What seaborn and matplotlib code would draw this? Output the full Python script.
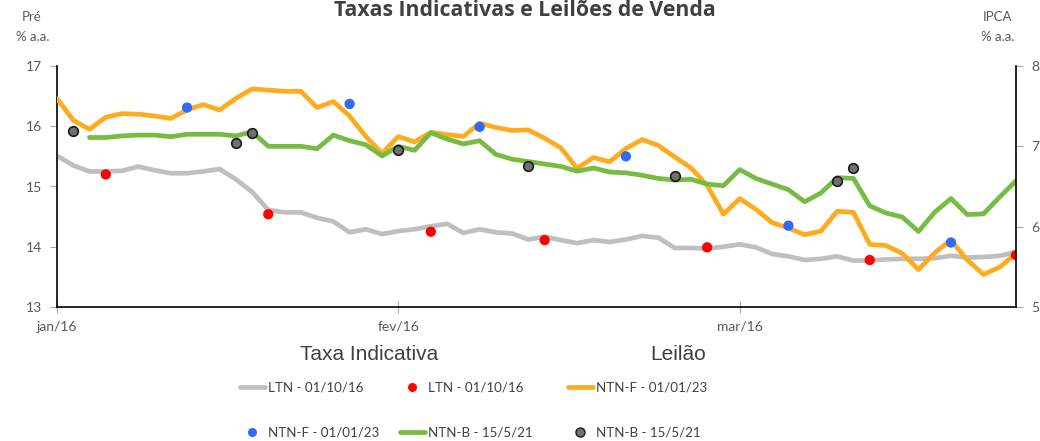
import matplotlib
matplotlib.use("Agg")
import matplotlib.pyplot as plt
from matplotlib.lines import Line2D
import numpy as np
import pandas as pd
import seaborn as sns

# ---------------- data ----------------
x_tick_pos = [0, 21, 42]
x_tick_labels = ["jan/16", "fev/16", "mar/16"]

ltn_rate = [15.51, 15.35, 15.25, 15.25, 15.26, 15.33, 15.27, 15.22, 15.22, 15.25,
            15.29, 15.12, 14.91, 14.61, 14.57, 14.57, 14.48, 14.42, 14.24, 14.29,
            14.21, 14.26, 14.29, 14.34, 14.38, 14.23, 14.29, 14.24, 14.22, 14.12,
            14.17, 14.11, 14.06, 14.11, 14.08, 14.12, 14.18, 14.15, 13.98, 13.98,
            13.97, 14.00, 14.04, 13.99, 13.88, 13.84, 13.78, 13.80, 13.84, 13.77,
            13.77, 13.79, 13.80, 13.80, 13.81, 13.85, 13.82, 13.83, 13.85, 13.91]

ntnf_rate = [16.46, 16.10, 15.95, 16.15, 16.21, 16.20, 16.17, 16.13, 16.27, 16.36,
             16.27, 16.46, 16.62, 16.60, 16.58, 16.58, 16.31, 16.41, 16.17, 15.83,
             15.55, 15.83, 15.74, 15.90, 15.86, 15.83, 16.05, 15.98, 15.93, 15.94,
             15.80, 15.64, 15.30, 15.48, 15.41, 15.63, 15.78, 15.68, 15.49, 15.31,
             15.02, 14.54, 14.80, 14.62, 14.40, 14.31, 14.20, 14.26, 14.59, 14.57,
             14.04, 14.02, 13.89, 13.62, 13.90, 14.11, 13.78, 13.54, 13.66, 13.89]

ntnb_rate = [np.nan, np.nan, 7.11, 7.11, 7.13, 7.14, 7.14, 7.12, 7.15, 7.15,
             7.15, 7.13, 7.18, 7.00, 7.00, 7.00, 6.97, 7.14, 7.07, 7.02,
             6.88, 7.00, 6.95, 7.17, 7.09, 7.03, 7.07, 6.90, 6.84, 6.81,
             6.78, 6.75, 6.69, 6.73, 6.68, 6.67, 6.64, 6.60, 6.58, 6.59,
             6.53, 6.51, 6.71, 6.60, 6.53, 6.46, 6.31, 6.42, 6.61, 6.60,
             6.26, 6.17, 6.12, 5.94, 6.18, 6.35, 6.15, 6.16, 6.37, 6.57]

ltn_auc_idx = [3, 13, 23, 30, 40, 50, 59]
ltn_auc = [15.20, 14.54, 14.25, 14.11, 13.99, 13.78, 13.86]

ntnf_auc_idx = [8, 18, 26, 35, 45, 55]
ntnf_auc = [16.31, 16.37, 15.99, 15.50, 14.35, 14.07]

ntnb_auc_idx = [1, 11, 12, 21, 29, 38, 48, 49]
ntnb_auc = [7.19, 7.04, 7.17, 6.95, 6.76, 6.63, 6.57, 6.73]

# ---------------- style ----------------
sns.set_theme(style="white")
plt.rcParams["font.family"] = ["Lato", "DejaVu Sans"]

C_GRAY = "#BFBFBF"
C_ORANGE = "#FFAB1F"
C_GREEN = "#77BC42"
C_RED = "#FF0000"
C_BLUE = "#2F6BF6"
C_DOT = "#707070"
TXT = "#595959"
DARK = "#404040"

idx = np.arange(len(ltn_rate))
df = pd.DataFrame({"i": idx, "ltn": ltn_rate, "ntnf": ntnf_rate, "ntnb": ntnb_rate})

fig = plt.figure(figsize=(10.4, 4.41), dpi=100)
ax = fig.add_axes([57 / 1040, 1 - 307 / 441, (1016 - 57) / 1040, (307 - 66) / 441])
ax2 = ax.twinx()

LW = 3.4
sns.lineplot(data=df, x="i", y="ltn", ax=ax, color=C_GRAY, lw=LW, zorder=2)
sns.lineplot(data=df, x="i", y="ntnf", ax=ax, color=C_ORANGE, lw=LW, zorder=3)
sns.scatterplot(x=ltn_auc_idx, y=ltn_auc, ax=ax, color=C_RED, s=55,
                edgecolor="none", zorder=5)
sns.scatterplot(x=ntnf_auc_idx, y=ntnf_auc, ax=ax, color=C_BLUE, s=55,
                edgecolor="none", zorder=5)

sns.lineplot(data=df, x="i", y="ntnb", ax=ax2, color=C_GREEN, lw=LW, zorder=2)
sns.scatterplot(x=ntnb_auc_idx, y=ntnb_auc, ax=ax2, color=C_DOT, s=48,
                edgecolor="#1a1a1a", linewidth=1.2, zorder=5)

for a in (ax, ax2):
    a.set_xlim(0, 59)
    a.set_xlabel("")
    a.set_ylabel("")
    a.grid(False)
    for s in a.spines.values():
        s.set_visible(False)

ax.set_ylim(13, 17)
ax.set_yticks([13, 14, 15, 16, 17])
ax2.set_ylim(5, 8)
ax2.set_yticks([5, 6, 7, 8])

ax.spines["left"].set_visible(True)
ax.spines["bottom"].set_visible(True)
ax2.spines["right"].set_visible(True)
for s in (ax.spines["left"], ax.spines["bottom"], ax2.spines["right"]):
    s.set_color("black")
    s.set_linewidth(1.2)

ax.set_xticks(x_tick_pos)
ax.set_xticklabels(x_tick_labels)
ax.tick_params(axis="x", direction="inout", length=8, width=0.8, color="#A6A6A6",
               labelsize=10, labelcolor=TXT, pad=6, bottom=True)
ax.tick_params(axis="y", direction="out", length=5, width=0.8, color="#A6A6A6",
               labelsize=10, labelcolor=TXT, pad=6, left=True)
ax2.tick_params(axis="y", direction="out", length=5, width=0.8, color="#A6A6A6",
                labelsize=10, labelcolor=TXT, pad=6, right=True)

# ---------------- texts ----------------
fig.text(525 / 1040, 1 - 10 / 441, "Taxas Indicativas e Leilões de Venda",
         ha="center", va="center", fontsize=15.3, fontweight="bold", color=DARK,
         family=["Open Sans", "DejaVu Sans"])
fig.text(32 / 1040, 1 - 17 / 441, "Pré", ha="center", va="center", fontsize=9.5, color=TXT)
fig.text(33 / 1040, 1 - 37 / 441, "% a.a.", ha="center", va="center", fontsize=9.5, color=TXT)
fig.text(997 / 1040, 1 - 17 / 441, "IPCA", ha="center", va="center", fontsize=9.5, color=TXT)
fig.text(998 / 1040, 1 - 37 / 441, "% a.a.", ha="center", va="center", fontsize=9.5, color=TXT)

fig.text(369 / 1040, 1 - 355 / 441, "Taxa Indicativa", ha="center", va="center",
         fontsize=15, color=DARK, family=["Liberation Sans", "DejaVu Sans"])
fig.text(678 / 1040, 1 - 354 / 441, "Leilão", ha="center", va="center",
         fontsize=15, color=DARK, family=["Liberation Sans", "DejaVu Sans"])

# ---------------- legends ----------------
def line_h(c):
    return Line2D([], [], color=c, lw=3.4)

def dot_h(c, ec="none"):
    return Line2D([], [], color=c, lw=0, marker="o", markersize=6.5,
                  markeredgecolor=ec, markeredgewidth=1.0)

cols = [
    (240, [line_h(C_GRAY), dot_h(C_BLUE)], ["LTN - 01/10/16", "NTN-F - 01/01/23"]),
    (400, [dot_h(C_RED), line_h(C_GREEN)], ["LTN - 01/10/16", "NTN-B - 15/5/21"]),
    (568, [line_h(C_ORANGE), dot_h(C_DOT, "#1a1a1a")], ["NTN-F - 01/01/23", "NTN-B - 15/5/21"]),
]
for xpix, hs, ls in cols:
    fig.legend(hs, ls, loc="upper left",
               bbox_to_anchor=(xpix / 1040, 1 - 382 / 441),
               frameon=False, fontsize=9.6, labelcolor=DARK,
               handlelength=1.85, handletextpad=0.25, borderpad=0,
               borderaxespad=0, labelspacing=2.45)

fig.savefig("out.png", dpi=100)
